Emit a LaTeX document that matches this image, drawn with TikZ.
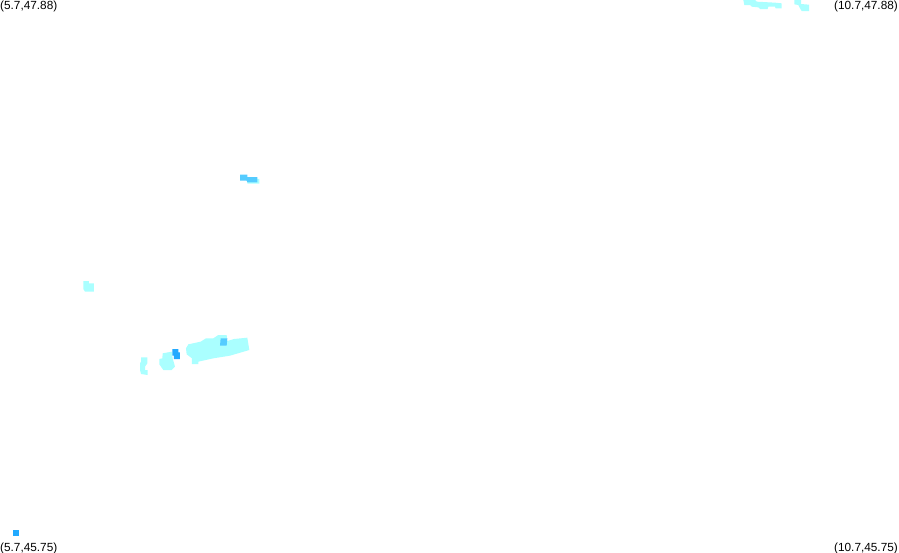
\documentclass[tikz,border=0pt]{standalone}
\usepackage{fontspec}
\setmainfont{Liberation Sans}
\definecolor{pale}{HTML}{AAFFFF}
\definecolor{midblue}{HTML}{55CCFF}
\definecolor{deep}{HTML}{22AAFF}
\tikzset{
  lab/.style={inner sep=0pt,font=\fontsize{11.8}{12}\selectfont,text=black},
  zoomed/.style={x=0.3333pt,y=-0.3333pt}
}
\begin{document}
\begin{tikzpicture}[x=1pt,y=-1pt]
\useasboundingbox (0,0) rectangle (899,552);
\fill[white] (0,0) rectangle (899,552);
\node[lab,anchor=base west] (tl) at (0,9) {(5.7,47.88)};
\node[lab,anchor=base east] (tr) at (898,9) {(10.7,47.88)};
\node[lab,anchor=base west] (bl) at (0,551) {(5.7,45.75)};
\node[lab,anchor=base east] (br) at (898,551) {(10.7,45.75)};
% main cluster
\begin{scope}[shift={(130,325)},zoomed]
\fill[pale] (168,70)--(175,58)--(212,50)--(228,40)--(250,40)--(265,30)--(290,30)--(292,48)--(312,42)--(352,38)--(358,75)--(300,92)--(250,100)--(205,110)--(205,117)--(186,117)--(186,100)--(170,88)--cycle;
\fill[pale] (33,97)--(52,97)--(52,115)--(45,125)--(45,135)--(53,135)--(53,150)--(33,147)--(30,135)--(30,115)--(33,110)--cycle;
\fill[pale] (98,85)--(125,80)--(128,100)--(135,125)--(125,135)--(100,135)--(88,118)--(88,102)--(97,100)--cycle;
\fill[deep] (127,72)--(145,72)--(145,82)--(150,82)--(150,102)--(132,102)--(132,92)--(127,92)--cycle;
\fill[midblue] (272,40)--(292,40)--(290,62)--(270,62)--cycle;
\end{scope}
% top right
\begin{scope}[shift={(735,0)},zoomed]
\fill[pale] (25,0)--(60,0)--(65,5)--(120,8)--(140,10)--(140,25)--(122,25)--(120,20)--(100,20)--(98,27)--(75,27)--(70,22)--(50,20)--(45,15)--(28,15)--cycle;
\fill[pale] (178,0)--(198,0)--(198,12)--(222,14)--(222,33)--(200,33)--(195,25)--(190,15)--(178,13)--cycle;
\end{scope}
% upper middle
\begin{scope}[shift={(230,168)},zoomed]
\fill[pale] (52,30)--(88,33)--(88,47)--(52,47)--cycle;
\fill[midblue] (30,20)--(52,20)--(52,27)--(82,27)--(82,43)--(52,43)--(50,38)--(30,38)--cycle;
\end{scope}
% left
\begin{scope}[shift={(75,275)},zoomed]
\fill[pale] (25,18)--(42,18)--(42,25)--(57,25)--(57,50)--(30,50)--(25,42)--cycle;
\end{scope}
% bottom left
\begin{scope}[shift={(0,522)},zoomed]
\fill[deep] (40,25)--(57,25)--(57,42)--(40,42)--cycle;
\end{scope}
\end{tikzpicture}
\end{document}
